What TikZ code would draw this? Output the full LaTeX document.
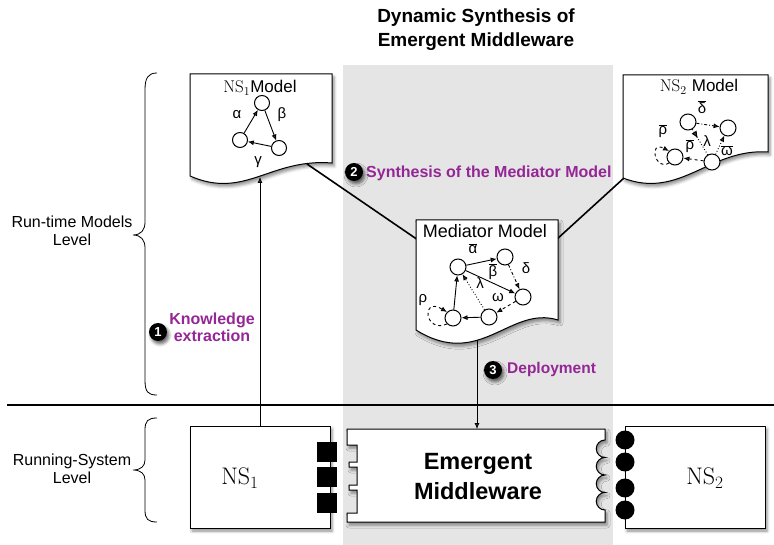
\documentclass[tikz,border=0pt]{standalone}
\usepackage{fontspec}
\newfontfamily\hv{Liberation Sans}
\usetikzlibrary{arrows.meta,shadows.blur,decorations.markings}
\definecolor{purp}{RGB}{148,38,150}
\definecolor{band}{RGB}{229,229,229}
\newcommand{\ovl}[1]{$\overline{\hbox{\hv #1}}$}
\newcommand{\fsz}[2]{\fontsize{#1}{#2}\selectfont}
\begin{document}
\begin{tikzpicture}[x=1pt,y=-1pt,
  arr/.style={-{Latex[length=6pt,width=5pt]}},
  gedge/.style={arr,line width=0.9pt},
  shad/.style={blur shadow={shadow xshift=2pt,shadow yshift=-3pt,shadow blur radius=3pt,shadow opacity=45}},
  docsty/.style={draw,fill=white,line width=1pt,shad},
  gnode/.style={circle,draw,fill=white,minimum size=16pt,inner sep=0pt,line width=1pt},
  glab/.style={font=\hv\fsz{15}{15},inner sep=0pt},
  numc/.style={circle,fill=black,text=white,font=\hv\bfseries\fsz{13}{13},minimum size=18pt,inner sep=0pt,blur shadow={shadow xshift=2pt,shadow yshift=-3pt,shadow blur radius=3pt,shadow opacity=60}},
  plab/.style={text=purp,font=\hv\bfseries\fsz{16}{17},align=center,inner sep=0pt},
  sysbox/.style={draw,fill=white,line width=1pt,shad,inner sep=0pt},
  bracesty/.style={line width=0.8pt},
  midarr/.style={postaction={decorate,decoration={markings,mark=at position 0.35 with {\arrow{Latex[length=7pt,width=6pt]}}}}}
]
\useasboundingbox (0,0) rectangle (774,545);
% gray band
\fill[band] (343,65) rectangle (613,545);

% title
\node[font=\hv\bfseries\fsz{19}{24},align=center] (title) at (476,30) {Dynamic Synthesis of\\Emergent Middleware};

% level labels and braces
\node[font=\hv\fsz{16}{18.3},align=center] (rtl) at (72,231) {Run-time Models\\Level};
\node[font=\hv\fsz{16}{18.3},align=center] (rsl) at (72,469) {Running-System\\Level};
\draw[bracesty] (157,73) .. controls (148,73) and (145,78) .. (145,90) -- (145,222)
  .. controls (145,230) and (141,235) .. (133,235) .. controls (141,235) and (145,240) .. (145,248)
  -- (145,380) .. controls (145,392) and (148,395) .. (157,395);
\draw[bracesty] (157,418) .. controls (148,418) and (145,421) .. (145,430) -- (145,460)
  .. controls (145,466) and (141,470) .. (133,470) .. controls (141,470) and (145,474) .. (145,480)
  -- (145,510) .. controls (145,519) and (148,522) .. (157,522);

% separator line
\coordinate (hl1) at (7,405);
\coordinate (hl2) at (774,405);
\draw[line width=2pt] (hl1) -- (hl2);

% connectors between model documents (behind documents)
\coordinate (ns1out) at (307,164);
\coordinate (medin) at (418,240);
\coordinate (ns2out) at (624,178);
\coordinate (medin2) at (556,240);
\draw[line width=1.6pt] (ns1out) -- (medin);
\draw[line width=1.6pt] (ns2out) -- (medin2);

% NS1 model document
\path[docsty] (190,74) -- (332,74) -- (332,163) .. controls (270,158) and (245,200) .. (190,176) -- cycle;
\node[font=\fsz{17}{17}] (ns1t) at (260,88) {$\mathrm{NS}_1$\hv Model};
\node[gnode,minimum size=15pt] (a) at (262,103) {};
\node[gnode,minimum size=15pt] (b) at (240,140) {};
\node[gnode,minimum size=15pt] (c) at (279,148) {};
\draw[gedge] (b) -- (a);
\draw[gedge] (a) -- (c);
\draw[gedge] (c) -- (b);
\node[glab] (la) at (237,115) {α};
\node[glab] (lb) at (282,115) {β};
\node[glab] (lg) at (258,162) {γ};

% NS2 model document
\path[docsty] (623,75) -- (768,75) -- (768,152) .. controls (710,148) and (680,200) .. (623,178) -- cycle;
\node[font=\fsz{17}{17}] (ns2t) at (699,87) {$\mathrm{NS}_2$ \hv Model};
\node[gnode] (A) at (688,122) {};
\node[gnode] (B) at (728,128) {};
\node[gnode] (C) at (675,157) {};
\node[gnode] (D) at (712,162) {};
\draw[gedge,dashdotted] (A) -- (B);
\draw[dotted,line width=0.9pt,midarr] (A) -- (D);
\draw[gedge,dotted] (D) -- (B);
\draw[gedge,dashed] (D) -- (C);
\draw[gedge,dashed] (C.south west) .. controls (655,172) and (648,140) .. (C.north west);
\node[glab] (ld2) at (702,107) {\ovl{δ}};
\node[glab] (lr2a) at (663,131) {\ovl{ρ}};
\node[glab] (lr2b) at (690,146) {\ovl{ρ}};
\node[glab] (ll2) at (707,141) {λ};
\node[glab] (lw2) at (727,151) {\ovl{ω}};

% Mediator model document
\path[docsty] (416,220) -- (558,220) -- (558,320) .. controls (510,305) and (480,370) .. (416,330) -- cycle;
\node[font=\hv\fsz{18}{18}] (medt) at (485,231) {Mediator Model};
\node[gnode] (m1) at (458,267) {};
\node[gnode] (m2) at (505,257) {};
\node[gnode] (m3) at (523,297) {};
\node[gnode] (m4) at (489,317) {};
\node[gnode] (m5) at (453,318) {};
\draw[gedge] (m1) -- (m2);
\draw[gedge] (m1) -- (m3);
\draw[gedge,dashdotted] (m2) -- (m3);
\draw[gedge,dashed] (m3) -- (m4);
\draw[gedge] (m4) -- (m5);
\draw[gedge] (m5) -- (m1);
\draw[gedge,dotted] (m4) -- (m1);
\draw[gedge,dashed] (m5.south west) .. controls (425,334) and (420,296) .. (m5.north west);
\node[glab] (lma) at (473,249) {\ovl{α}};
\node[glab] (lmb) at (493,272) {\ovl{β}};
\node[glab] (lmd) at (526,268) {δ};
\node[glab] (lml) at (480,283) {λ};
\node[glab] (lmw) at (498,298) {ω};
\node[glab] (lmr) at (423,300) {ρ};

% running system level
\node[sysbox,minimum width=140pt,minimum height=102pt] (ns1) at (260,477) {};
\node[font=\fsz{24}{24}] (ns1l) at (240,478) {$\mathrm{NS}_1$};
\fill (317,442) rectangle (337,462);
\fill (317,467) rectangle (337,487);
\fill (317,493) rectangle (337,513);

\path[draw,fill=white,line width=1pt,shad] (347,429) -- (605,429) -- (605,440)
  arc[start angle=270,end angle=90,radius=8.75]
  arc[start angle=270,end angle=90,radius=8.75]
  arc[start angle=270,end angle=90,radius=8.75]
  arc[start angle=270,end angle=90,radius=8.75]
  -- (605,522) -- (347,522) -- (347,513) -- (357,513) -- (357,490) -- (349,490) -- (349,485)
  -- (357,485) -- (357,467) -- (349,467) -- (349,462) -- (357,462) -- (357,445) -- (347,445) -- cycle;
\coordinate (emtop) at (477,429);
\node[font=\hv\bfseries\fsz{23.5}{30},align=center] (em) at (478,477) {Emergent\\Middleware};

\node[sysbox,minimum width=140pt,minimum height=102pt] (ns2) at (695,477) {};
\node[font=\fsz{24}{24}] (ns2l) at (705,478) {$\mathrm{NS}_2$};
\foreach \yy in {440,462,488,510} \fill (625,\yy) circle (9.5);

% process arrows
\coordinate (ns1in) at (260,177);
\coordinate (medout) at (477,340);
\draw[arr,line width=0.8pt] (ns1.north) -- (ns1in);
\draw[arr,line width=0.8pt] (medout) -- (emtop);

% step labels
\node[numc] (n1) at (158,332) {1};
\node[plab] (p1) at (212,327) {Knowledge\\extraction};
\node[numc] (n2) at (354,172) {2};
\node[plab,anchor=west] (p2) at (366,173) {Synthesis of the Mediator Model};
\node[numc] (n3) at (493,370) {3};
\node[plab,anchor=west,font=\hv\bfseries\fsz{15.5}{17}] (p3) at (507,369) {Deployment};
\end{tikzpicture}
\end{document}
